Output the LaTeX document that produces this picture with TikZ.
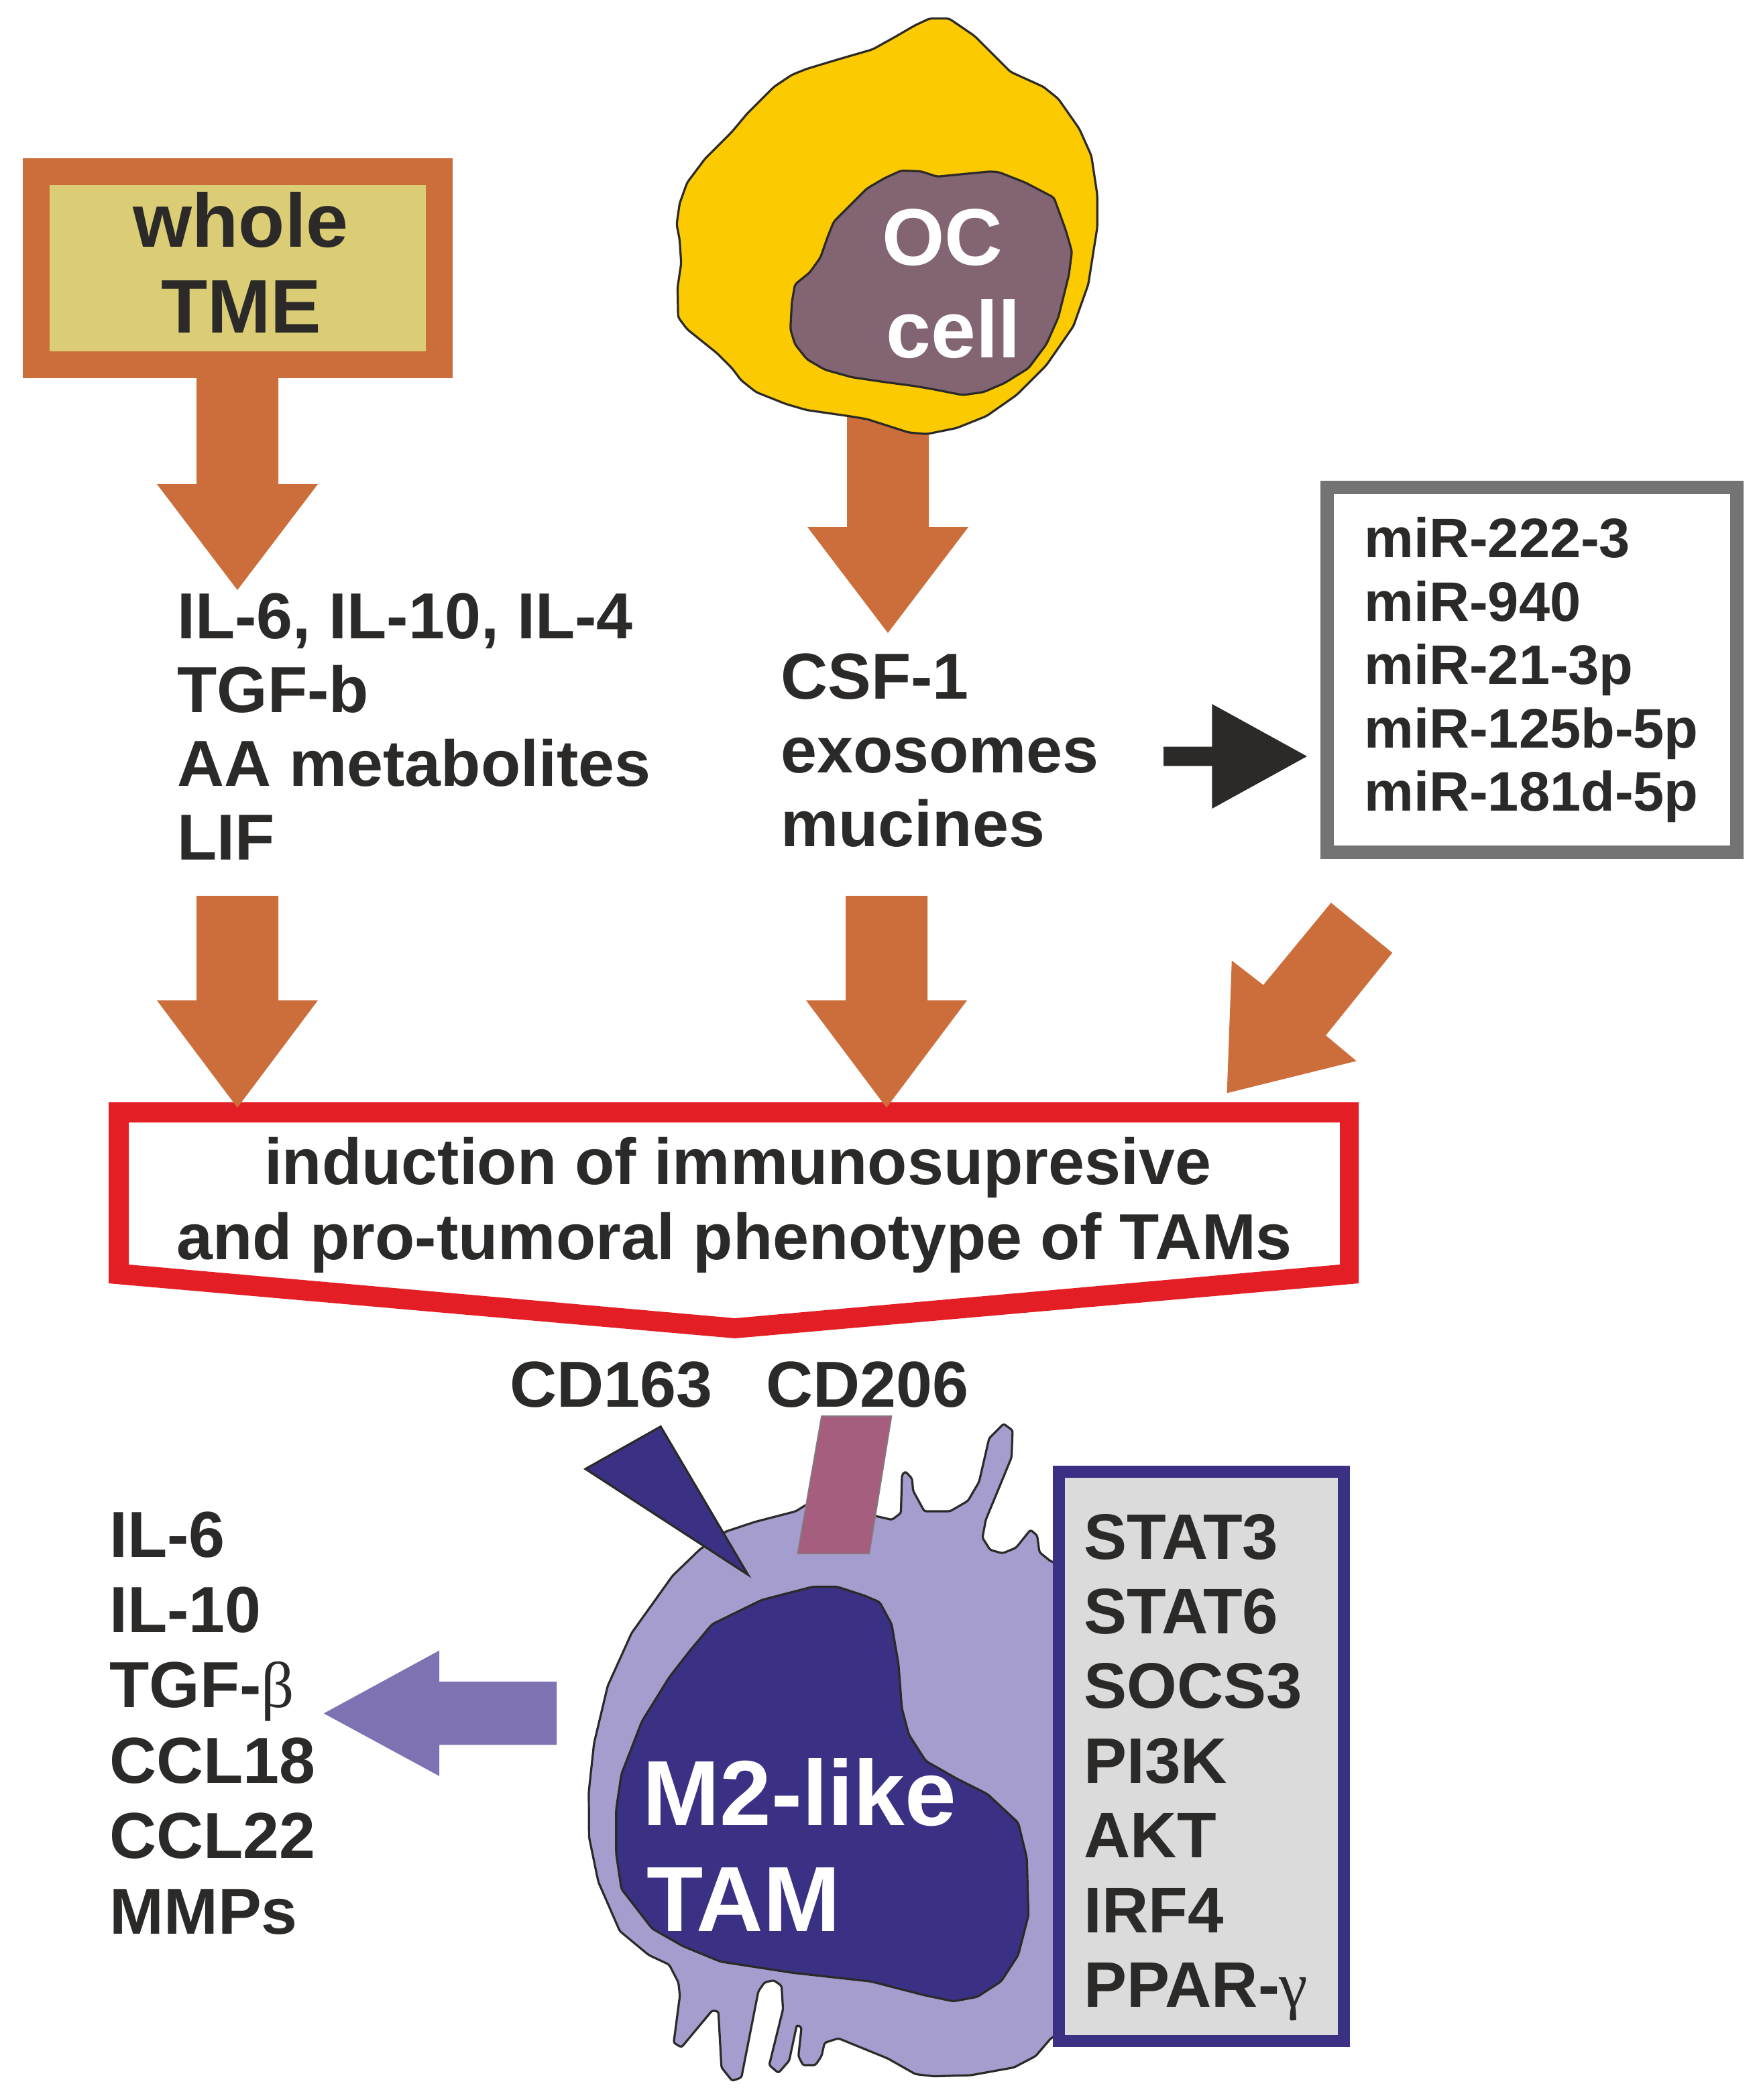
\documentclass[tikz,border=0pt]{standalone}
\usepackage{fontspec}
\setmainfont{Liberation Sans}
\newfontfamily\greekfont{Liberation Serif}
\usepackage{tikz}
\definecolor{tmeorange}{RGB}{204,110,60}
\definecolor{tmeyellow}{RGB}{219,205,118}
\definecolor{ocyellow}{RGB}{252,202,0}
\definecolor{ocnucleus}{RGB}{131,100,115}
\definecolor{inductred}{RGB}{227,30,36}
\definecolor{mirgray}{RGB}{115,115,115}
\definecolor{darktext}{RGB}{43,42,41}
\definecolor{tamlight}{RGB}{165,157,205}
\definecolor{tamdark}{RGB}{58,49,133}
\definecolor{cdpink}{RGB}{166,94,126}
\definecolor{secreted}{RGB}{127,114,178}
\definecolor{statgray}{RGB}{218,219,218}

\tikzset{
  listtxt/.style={anchor=base west,inner sep=0pt,text=darktext,font=\bfseries\fontsize{48.5}{55}\selectfont},
  mirtxt/.style={listtxt,font=\bfseries\fontsize{41.5}{47}\selectfont},
  celltxt/.style={anchor=base,inner sep=0pt,text=white,font=\bfseries\fontsize{60}{64}\selectfont},
  tmebox/.style={draw=tmeorange,fill=tmeyellow,line width=20pt,inner sep=0pt},
  mirbox/.style={draw=mirgray,fill=white,line width=10pt,inner sep=0pt},
  statbox/.style={draw=tamdark,fill=statgray,line width=9pt,inner sep=0pt},
  cellline/.style={draw=darktext,line width=1.6pt,line join=round}
}

\newcommand{\fatdown}[4]{\fill[tmeorange] ({#1-30.5},#2) -- ({#1+30.5},#2) -- ({#1+30.5},#3) -- ({#1+60},#3) -- (#1,#4) -- ({#1-60},#3) -- ({#1-30.5},#3) -- cycle;}

\begin{document}
\begin{tikzpicture}[x=1pt,y=-1pt]
\useasboundingbox (0,0) rectangle (1311.5,1566);
\fill[white] (0,0) rectangle (1311.5,1566);

% sources
\fatdown{177}{275}{361}{440}
\fatdown{662}{300}{393}{472}
\node[tmebox,minimum width=300.5pt,minimum height=144pt] (tme) at (177.25,200) {};
\node[celltxt,text=darktext,font=\bfseries\fontsize{56.6}{60}\selectfont] (tmeline1) at (179.5,184) {whole};
\node[celltxt,text=darktext,font=\bfseries\fontsize{56.6}{60}\selectfont] (tmeline2) at (180,248) {TME};

\filldraw[cellline,fill=ocyellow,rounded corners=2pt] (693.1,13.8) -- (707.6,13.8) -- (726.6,26.8) -- (740,40.2) -- (753.4,53.6) -- (777.9,64.7) -- (789.1,73.7) -- (804.7,96) -- (813.7,116.1) -- (818.1,145.1) -- (818.1,169.6) -- (811.4,212.1) -- (800.3,243.3) -- (780.2,272.3) -- (757.9,294.6) -- (735.5,310.3) -- (713.2,319.2) -- (690.9,323.7) -- (677.5,322.5) -- (646.3,312.5) -- (632.9,310.3) -- (601.6,305.8) -- (586,301.3) -- (563.7,292.4) -- (552.5,283.5) -- (545.8,274.6) -- (534.6,263.4) -- (512.3,245.5) -- (505.6,236.6) -- (505.2,214.3) -- (507.9,196.4) -- (506.7,178.6) -- (504.5,167.4) -- (506.7,151.8) -- (512.3,136.2) -- (525.7,118.3) -- (545.8,98.2) -- (557,84.8) -- (577.1,64.7) -- (590.4,55.8) -- (601.6,51.3) -- (623.9,44.6) -- (650.7,36.8) -- (668.6,26.8) -- (682,19) -- cycle;
\filldraw[cellline,fill=ocnucleus,rounded corners=2pt] (671.9,127.2) -- (686.4,127.7) -- (698.7,131.7) -- (737.8,127.9) -- (744.5,128.3) -- (764.6,136.2) -- (785.8,147.3) -- (794.7,171.9) -- (799.2,187.5) -- (796.9,205.4) -- (789.1,236.6) -- (780.2,256.7) -- (766.8,274.6) -- (748.9,285.7) -- (733.3,292.4) -- (717.7,294.6) -- (695.4,290.2) -- (682,287.9) -- (657.4,284.6) -- (635.1,281.3) -- (615,275.7) -- (601.6,267.9) -- (592.7,256.7) -- (589.3,245.5) -- (590.4,225.4) -- (592.7,212.1) -- (603.8,203.1) -- (611.7,192) -- (617.2,176.3) -- (621.7,165.2) -- (632.9,154) -- (646.3,140.6) -- (659.6,132.8) -- cycle;
\node[celltxt] (ocline1) at (702.6,197.5) {OC};
\node[celltxt] (ocline2) at (711,266.7) {cell};

% factors
\foreach \t [count=\i] in {{IL-6, IL-10, IL-4},TGF-b,AA metabolites,LIF}
  \node[listtxt] (tmefac\i) at (132,{476+55*(\i-1)}) {\t};
\foreach \t [count=\i] in {CSF-1,exosomes,mucines}
  \node[listtxt] (ocfac\i) at (582,{521+55*(\i-1)}) {\t};
\fill[darktext] (867.5,556.8) -- (903.7,556.8) -- (903.7,525) -- (974.5,564) -- (903.7,603) -- (903.7,571.2) -- (867.5,571.2) -- cycle;
\node[mirbox,minimum width=305.7pt,minimum height=271.9pt] (mirs) at (1142.2,499.5) {};
\foreach \t [count=\i] in {miR-222-3,miR-940,miR-21-3p,miR-125b-5p,miR-181d-5p}
  \node[mirtxt] (mir\i) at (1017,{415.9+47.2*(\i-1)}) {\t};

% induction
\fill[inductred,even odd rule] (81,822) -- (1013,822) -- (1013,957) -- (548,998) -- (81,957) -- cycle
  (96,837) -- (999,837) -- (999,943) -- (548,983) -- (96,943) -- cycle;
\fatdown{177}{668}{746}{826}
\fatdown{661}{668}{746}{826}
\fill[tmeorange] (992.4,673.2) -- (1038.1,710.5) -- (988.5,772.1) -- (1011.4,791.2) -- (914.8,815.1) -- (918.4,716.3) -- (941.9,734.5) -- cycle;
\node[listtxt,anchor=base] (induct1) at (550,883) {induction of immunosupresive};
\node[listtxt,anchor=base] (induct2) at (547.5,939) {and pro-tumoral phenotype of TAMs};

% TAM
\node[listtxt] (cd163) at (380,1049) {CD163};
\node[listtxt] (cd206) at (571,1049) {CD206};
\filldraw[cellline,fill=tamlight,rounded corners=1.5pt] (541.1,1142.1) -- (562.8,1134.9) -- (593.3,1127) -- (601.7,1121.7) -- (654.2,1130.8) -- (665,1133.3) -- (671.7,1128.3) -- (672.5,1100) -- (675,1097.2) -- (680,1102.5) -- (680.8,1111.7) -- (689.2,1127) -- (708.3,1127) -- (721.7,1119.2) -- (730,1105) -- (737.5,1072.5) -- (748.3,1061.7) -- (755,1066.7) -- (754.2,1086.7) -- (746.7,1105) -- (735,1133.3) -- (732.5,1146.7) -- (738.3,1155.8) -- (747.5,1158.3) -- (757.5,1154.2) -- (768.3,1140.8) -- (773.3,1145) -- (775,1157.5) -- (783.3,1164.2) -- (800,1170) -- (800,1510) -- (783.5,1520) -- (772.1,1533.3) -- (756,1541.7) -- (723.9,1547.5) -- (696.3,1548.3) -- (682.5,1546.7) -- (661.9,1535) -- (625.1,1520) -- (614.8,1523.3) -- (612.5,1533.3) -- (607.9,1540) -- (598.7,1540) -- (595.3,1533.3) -- (597.6,1511.7) -- (594.1,1510) -- (588.4,1536.7) -- (580.4,1545.8) -- (573.5,1540) -- (583.8,1498.3) -- (582.7,1480.8) -- (576.9,1476.7) -- (570,1478.3) -- (565.4,1485) -- (552.8,1549.2) -- (545.9,1551.7) -- (537.9,1541.7) -- (535.6,1500) -- (531,1499.2) -- (508.1,1526.7) -- (502.3,1523.3) -- (506.9,1488.3) -- (505.8,1478.3) -- (498.9,1465) -- (483.7,1457.9) -- (462.1,1440) -- (446.1,1403.3) -- (439.2,1370) -- (439,1336.2) -- (442.9,1300) -- (453.1,1257.2) -- (470.9,1217.8) -- (501.5,1175) -- (521.9,1155.3) -- cycle;
\filldraw[cellline,fill=tamdark,rounded corners=2pt] (530.9,1211.2) -- (567.9,1193.1) -- (606.1,1183.2) -- (624,1183.2) -- (644.4,1189.8) -- (655.9,1194.7) -- (664.8,1211.2) -- (669.9,1240.8) -- (672.4,1273.7) -- (677.6,1293.4) -- (690.3,1313.2) -- (713.3,1326.3) -- (736.2,1337.8) -- (759.2,1359.2) -- (765.6,1385.5) -- (766.8,1428.3) -- (759.2,1457.9) -- (746.4,1477.6) -- (728.6,1489.1) -- (710.7,1492.4) -- (687.8,1487.5) -- (649.5,1477.6) -- (590.8,1471.1) -- (537.2,1462.8) -- (509.2,1451.3) -- (486.2,1438.2) -- (463.3,1408.6) -- (459.4,1382.2) -- (459.4,1349.3) -- (463.3,1323) -- (478.6,1283.6) -- (499,1250.7) -- (514.3,1231) -- cycle;
\filldraw[cellline,fill=tamdark,line join=miter] (436.5,1095.4) -- (492.6,1063.8) -- (557.7,1174.3) -- cycle;
\filldraw[draw=gray,line width=0.8pt,fill=cdpink] (612.5,1055.9) -- (664.8,1055.9) -- (648.2,1158.6) -- (594.6,1158.6) -- cycle;
\node[celltxt,anchor=base west,font=\bfseries\fontsize{69}{79}\selectfont] (tamline1) at (479,1361) {M2-like};
\node[celltxt,anchor=base west,font=\bfseries\fontsize{69}{79}\selectfont] (tamline2) at (482,1440) {TAM};

% signalling
\node[statbox,minimum width=212.5pt,minimum height=424.3pt] (stats) at (895.6,1309.7) {};
\foreach \t [count=\i] in {STAT3,STAT6,SOCS3,PI3K,AKT,IRF4,{PPAR-{\greekfont\mdseries γ}}}
  \node[listtxt,font=\bfseries\fontsize{48}{55}\selectfont] (stat\i) at (808,{1162.5+55.7*(\i-1)}) {\t};

% secreted
\fill[secreted] (415,1254) -- (327.5,1254) -- (327.5,1230.8) -- (241.4,1277.7) -- (327.5,1324.4) -- (327.5,1301.2) -- (415,1301.2) -- cycle;
\foreach \t [count=\i] in {IL-6,IL-10,{TGF-{\greekfont\mdseries β}},CCL18,CCL22,MMPs}
  \node[listtxt] (tamfac\i) at (81.5,{1161+56.2*(\i-1)}) {\t};
\end{tikzpicture}
\end{document}
